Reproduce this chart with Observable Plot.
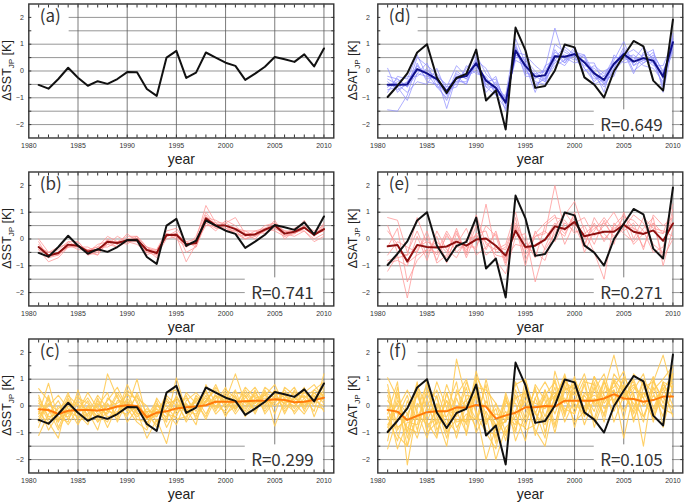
<!DOCTYPE html>
<html><head><meta charset="utf-8">
<script src="https://cdn.jsdelivr.net/npm/d3@7"></script>
<script src="https://cdn.jsdelivr.net/npm/@observablehq/plot@0.6"></script>
<style>
body{margin:0;background:#fff}
#wrap{position:relative;width:685px;height:502px;background:#fff;overflow:hidden}
#wrap svg{position:absolute}
</style>
</head><body><div id="wrap"></div>
<script>
const years = [1981,1982,1983,1984,1985,1986,1987,1988,1989,1990,1991,1992,1993,1994,1995,1996,1997,1998,1999,2000,2001,2002,2003,2004,2005,2006,2007,2008,2009,2010];
const xTickLabels = [1980,1985,1990,1995,2000,2005,2010];
const yTickLabels = [-2,-1,0,1,2];
const gridXValues = [1985,1990,1995,2000,2005,2010];
const gridYValues = [-2,-1.5,-1,-0.5,0,0.5,1,1.5,2];
const minorXTicks = [1981,1982,1983,1984,1985,1986,1987,1988,1989,1990,1991,1992,1993,1994,1995,1996,1997,1998,1999,2000,2001,2002,2003,2004,2005,2006,2007,2008,2009,2010];
const minorYTicks = [-2,-1.5,-1,-0.5,0,0.5,1,1.5,2];
const panelLabels = ["(a)","(b)","(c)","(d)","(e)","(f)"];
const rLabels = [null,"R=0.741","R=0.299","R=0.649","R=0.271","R=0.105"];
const varNames = ["SST","SST","SST","SAT","SAT","SAT"];

// observed anomalies
const sstObs = [-0.52,-0.66,-0.3,0.12,-0.25,-0.55,-0.38,-0.48,-0.3,-0.04,-0.05,-0.67,-0.93,0.5,0.75,-0.26,-0.06,0.69,0.5,0.31,0.19,-0.33,-0.1,0.16,0.52,0.44,0.34,0.62,0.17,0.84];
const satObs = [-0.97,-0.55,-0.09,0.69,1.0,-0.24,-0.82,-0.26,-0.11,0.8,-1.1,-0.73,-2.18,1.62,0.78,-0.63,-0.56,0.02,0.99,0.88,-0.24,-0.51,-0.99,-0.01,0.57,1.12,0.92,-0.36,-0.73,1.92];

// ensemble means
const meanB = [-0.3,-0.62,-0.52,-0.21,-0.25,-0.47,-0.4,-0.1,-0.15,-0.05,-0.02,-0.41,-0.52,0.15,0.16,-0.2,-0.15,0.77,0.5,0.5,0.37,0.15,0.17,0.35,0.5,0.2,0.27,0.43,0.15,0.37];
const meanC = [-0.12,-0.15,-0.3,-0.18,-0.15,-0.15,-0.17,-0.12,-0.02,0.03,0.0,-0.42,-0.25,-0.2,-0.09,-0.05,-0.02,0.03,0.16,0.16,0.16,0.18,0.2,0.2,0.25,0.22,0.14,0.16,0.22,0.31];
const meanD = [-0.51,-0.51,-0.5,0.07,-0.09,-0.3,-0.76,-0.26,-0.19,0.29,-0.36,-0.63,-1.18,0.76,0.19,-0.21,-0.16,0.55,0.53,0.63,0.32,-0.09,-0.33,0.26,0.63,0.35,0.48,0.38,-0.21,1.07];
const meanE = [-0.27,-0.22,-0.84,-0.22,-0.3,-0.32,-0.28,-0.1,-0.25,-0.02,0.02,-0.25,-0.62,0.31,-0.3,-0.25,-0.02,0.47,0.37,0.64,0.1,0.19,0.27,0.27,0.53,0.27,0.19,0.32,-0.07,0.58];
const meanF = [-0.15,-0.21,-0.52,-0.37,-0.23,-0.2,-0.2,-0.05,-0.07,0.04,-0.02,-0.47,-0.35,-0.25,-0.05,-0.05,0.0,-0.02,0.2,0.2,0.2,0.2,0.28,0.44,0.28,0.26,0.16,0.22,0.35,0.35];

// ensemble members (estimated)
const membersB = [
[0.0,-0.5,-0.4,-0.1,-0.3,-0.4,-0.3,0.1,-0.1,0.1,0.1,-0.3,-0.4,0.3,0.4,-0.1,0.0,1.25,0.6,0.6,0.4,0.3,0.3,0.4,0.6,0.3,0.2,0.5,0.1,0.5],
[-0.4,-0.85,-0.7,-0.3,-0.2,-0.6,-0.5,-0.2,-0.3,-0.1,0.0,-0.5,-0.6,0.0,0.1,-0.85,-0.2,0.6,0.4,0.4,0.2,0.1,0.2,0.3,0.7,0.1,0.3,0.3,0.0,0.2],
[-0.2,-0.6,-0.5,-0.3,-0.1,-0.5,-0.6,-0.05,-0.2,0.0,-0.1,-0.3,-0.5,0.2,0.0,-0.3,-0.1,0.9,0.4,0.6,0.8,0.2,0.0,0.4,0.4,0.2,0.4,0.6,0.2,0.4],
[-0.5,-0.7,-0.6,-0.2,-0.4,-0.4,-0.3,-0.3,-0.1,-0.2,0.1,-0.6,-0.4,0.1,0.3,-0.5,-0.3,0.7,0.6,0.3,0.3,0.0,0.1,0.3,0.5,0.3,0.2,0.4,0.2,0.3],
[-0.3,-0.5,-0.3,-0.2,-0.3,-0.3,-0.5,0.0,-0.2,0.2,-0.1,-0.4,-0.7,0.2,0.1,-0.2,-0.2,0.8,0.7,0.5,0.4,0.2,0.2,0.5,0.6,0.0,0.3,0.7,0.1,0.6],
[-0.1,-0.7,-0.5,-0.3,-0.2,-0.6,-0.4,-0.2,0.1,-0.1,-0.2,-0.5,-0.5,0.1,0.2,-0.1,-0.3,0.6,0.3,0.7,0.5,0.1,0.3,0.2,0.4,0.2,0.1,0.3,-0.1,0.1],
[-0.4,-0.6,-0.6,-0.1,-0.1,-0.5,-0.2,-0.1,-0.3,0.0,0.1,-0.3,-0.6,0.2,0.1,-0.3,0.1,1.0,0.5,0.4,0.3,0.3,0.1,0.3,0.5,0.3,0.3,0.5,0.3,0.5],
[-0.3,-0.5,-0.6,-0.3,-0.3,-0.4,-0.6,-0.1,-0.1,-0.1,-0.1,-0.4,-0.4,0.1,0.2,-0.2,-0.1,0.5,0.5,0.5,0.2,0.0,0.2,0.4,0.3,0.1,0.2,0.4,0.2,0.3]
];
const membersC = [
[0.65,0.2,-0.6,0.1,-0.3,0.2,-0.5,1.2,0.3,-0.2,0.4,-0.7,0.1,-0.5,0.4,-0.3,0.2,0.5,-0.1,0.6,0.3,-0.2,0.5,0.0,0.6,0.3,-0.1,0.6,0.2,0.8],
[-1.1,-0.3,0.2,-0.5,0.1,-0.6,0.2,-0.4,-0.3,0.5,-0.3,-0.2,-0.8,0.3,-0.2,0.4,-0.5,0.2,0.6,-0.1,0.5,0.4,-0.2,0.6,-0.3,0.7,0.4,-0.1,0.5,0.1],
[-0.3,0.85,-0.5,-0.2,0.4,-0.4,0.1,-0.2,0.5,-0.1,1.0,-0.5,-0.1,-0.6,1.05,-0.2,0.3,-0.3,0.4,0.2,1.2,0.1,0.4,-0.2,0.3,0.1,0.5,0.3,-0.2,1.2],
[0.2,-0.6,-1.2,0.3,-0.5,0.0,-0.6,0.1,-0.4,0.3,-0.2,-1.2,-0.5,-1.4,0.1,-0.5,0.4,0.0,0.2,-0.3,0.0,0.6,0.1,0.5,-0.75,0.2,0.0,0.5,0.8,0.3],
[-0.5,0.1,-0.2,-0.7,-0.1,0.3,-0.3,-0.6,0.2,0.1,-0.4,-0.1,-0.4,0.2,-0.3,0.1,-0.4,0.6,-0.2,0.5,-0.1,0.3,0.7,0.1,0.5,-0.2,0.3,0.0,0.4,-0.2],
[0.3,-0.4,-0.3,0.5,-0.6,-0.3,0.4,-0.1,-0.5,0.6,0.2,-0.8,0.3,-0.3,-0.4,0.5,0.1,-0.4,0.5,0.3,-0.3,0.2,-0.1,0.7,0.4,0.5,-0.3,0.2,0.1,0.6],
[-0.2,-0.7,0.0,-0.3,0.2,-0.2,-0.9,0.3,0.0,-0.4,0.5,-0.3,-0.7,0.1,0.2,-0.6,0.0,0.3,0.0,-0.2,0.4,-0.3,0.3,0.4,0.8,0.0,0.6,-0.2,0.6,0.4],
[-0.6,0.4,-0.8,0.0,-0.2,0.5,-0.1,-0.3,0.4,-0.6,-0.1,-0.5,0.0,-0.2,-0.7,0.2,0.5,0.1,0.8,0.0,0.2,-0.1,0.6,-0.3,0.2,0.4,0.2,0.7,-0.4,0.5],
[0.1,-0.2,-0.4,-0.6,0.6,-0.5,0.0,0.5,-0.6,0.2,-0.5,-0.6,-0.3,0.4,0.0,-0.1,-0.7,0.8,0.1,0.7,-0.2,0.5,0.0,0.2,0.1,0.6,0.1,0.4,0.0,-0.1],
[-0.4,0.0,0.4,-0.1,-0.7,0.0,-0.4,0.0,0.1,0.4,0.3,0.0,-0.6,-0.1,0.3,-0.3,0.2,-0.5,0.3,0.4,0.0,0.7,0.3,-0.1,0.4,-0.1,0.3,0.1,0.3,0.7],
[0.4,-0.5,-0.1,0.2,-0.3,-0.7,0.3,-0.5,-0.2,-0.3,0.0,-0.4,0.2,-0.8,-0.1,0.3,-0.2,0.4,-0.3,0.1,0.6,-0.4,0.2,0.3,0.0,0.3,0.7,0.0,0.5,0.2],
[-0.8,0.3,-0.6,0.4,0.0,-0.1,-0.2,0.2,0.7,-0.1,-0.6,-0.9,0.0,0.0,-0.5,-0.4,0.3,0.0,0.4,-0.4,0.3,0.0,0.5,0.0,0.6,-0.3,0.4,0.5,0.2,0.0],
[0.0,-0.9,-0.3,-0.4,0.3,0.1,-0.6,-0.2,-0.3,0.8,0.1,-0.4,-0.4,0.5,0.6,-0.2,-0.3,0.2,0.7,0.1,-0.1,0.4,-0.3,0.5,0.3,0.1,-0.2,0.3,0.6,0.9],
[-0.3,-0.1,-0.9,-0.2,-0.4,-0.3,0.0,-0.8,0.0,0.2,-0.3,-0.2,-0.2,-0.4,0.3,0.0,0.0,0.2,0.0,0.3,0.1,0.2,0.1,0.4,0.2,0.4,0.1,-0.3,0.3,0.4]
];
const membersD = [
[-1.45,-1.5,-0.9,0.3,-0.4,-0.5,-1.1,-0.2,-0.5,0.4,-0.6,-0.9,-1.4,0.9,0.1,-0.5,-0.3,0.8,0.3,0.7,0.5,-0.2,-0.6,0.1,0.9,0.2,0.6,0.3,-0.5,1.2],
[-0.2,-0.3,-0.6,0.5,0.2,-0.1,-0.6,-0.5,0.1,0.6,-0.1,-0.5,-1.0,0.6,0.4,0.0,-0.4,0.4,0.8,0.5,0.2,0.1,-0.2,0.5,0.5,0.6,0.3,0.6,0.0,0.9],
[-0.6,-0.4,-0.2,-0.2,0.1,-0.4,-0.9,0.0,-0.3,0.2,-0.5,-0.2,-1.3,1.0,0.0,-0.3,0.1,1.6,0.4,0.9,0.1,-0.3,-0.2,0.3,0.7,-0.1,0.7,0.5,-0.3,1.0],
[0.1,-0.8,-0.4,0.2,-0.3,-0.2,-0.5,-0.4,-0.1,0.3,-0.3,-0.8,-1.1,0.5,0.5,-0.6,-0.2,0.3,0.6,0.4,0.6,-0.1,-0.5,0.0,0.4,0.5,0.2,0.1,-0.4,1.3],
[-0.5,-0.6,-1.1,-0.1,0.3,-0.6,-1.0,-0.1,-0.3,0.5,-0.8,-0.4,-1.5,0.8,-0.1,-0.1,0.0,0.6,0.3,0.8,0.3,0.3,-0.5,0.4,1.1,0.2,0.4,0.7,-0.1,0.8],
[-0.8,-0.2,-0.3,0.6,-0.2,-0.3,-0.7,-0.6,0.2,-0.1,-0.2,-0.9,-0.9,1.2,0.3,-0.4,-0.5,0.5,0.9,0.6,0.1,-0.4,0.0,0.2,0.6,0.8,0.5,0.2,0.2,1.1],
[-0.3,-0.5,-0.8,-0.4,-0.5,0.1,-0.8,-0.3,-0.5,0.4,0.1,-0.6,-1.2,0.7,0.6,0.2,-0.1,0.7,0.5,0.3,0.4,0.0,-0.8,0.6,0.3,0.4,0.9,0.4,-0.6,1.4],
[-0.7,-0.6,-0.4,0.0,0.0,-0.2,-1.4,-0.2,-0.1,0.1,-0.5,-0.7,-1.0,0.4,0.2,-0.8,0.2,0.4,0.2,0.7,0.6,-0.5,-0.3,-0.2,0.8,0.0,0.3,0.5,-0.2,0.7],
[-0.4,-0.7,-0.5,0.2,-0.1,-0.6,-0.6,0.2,-0.2,0.0,-0.4,-0.3,-1.2,0.9,-0.2,-0.2,-0.4,1.0,0.7,0.5,0.0,0.2,-0.1,0.3,0.5,0.3,0.6,0.8,-0.8,1.0],
[-0.6,-0.3,-0.6,-0.1,-0.2,-0.3,-0.9,-0.4,-0.4,0.3,-0.6,-0.6,-1.1,0.6,0.3,-0.1,-0.3,0.2,0.4,0.6,0.3,-0.2,-0.4,0.1,0.7,0.5,0.4,0.3,-0.1,1.2]
];
const membersE = [
[0.8,0.7,-0.5,0.3,-0.6,0.1,-0.9,0.2,-0.5,0.5,-0.4,0.3,-0.9,0.8,-0.8,0.1,0.2,2.0,0.3,0.9,-0.2,0.6,-0.1,0.5,0.9,0.4,-0.3,0.6,0.2,1.3],
[-1.2,-0.6,-2.2,-0.4,0.1,-0.8,0.2,-0.5,-0.1,-0.4,1.3,-0.5,-0.3,0.6,-0.1,-0.7,0.5,0.8,0.7,0.2,0.5,-0.2,0.7,0.0,0.4,0.9,0.6,-0.2,-0.5,0.9],
[-0.3,0.4,-1.6,-0.8,-0.4,-0.1,-0.5,0.3,-0.7,0.2,0.3,-0.8,-1.3,0.1,0.2,-1.6,-0.3,0.5,0.9,1.4,0.3,-0.5,-1.5,0.6,0.2,-0.1,0.4,0.8,-1.0,0.4],
[0.5,-0.5,-0.6,0.8,-0.2,-0.6,0.1,-0.2,0.4,-0.6,-0.3,0.2,-0.8,0.5,-1.0,0.3,-0.4,0.2,1.0,0.5,-0.3,0.8,0.2,-0.2,1.0,0.0,0.8,0.4,0.3,0.1],
[-0.6,-0.1,-0.3,-0.5,0.3,-0.9,-0.6,0.4,-0.6,0.9,-0.2,-0.4,-0.2,1.0,-0.4,0.2,0.6,0.9,-0.2,0.6,0.8,0.1,0.5,1.0,0.3,0.6,-0.4,0.9,0.5,0.8],
[-0.9,-0.8,-1.0,0.1,-0.8,0.3,-0.4,-0.7,0.0,0.1,-0.1,-0.6,-0.7,-0.2,-0.3,-0.5,-0.8,0.4,0.1,1.0,-0.5,0.3,0.8,0.3,0.8,0.7,0.3,-0.5,-0.3,1.1],
[0.3,-0.2,-0.9,-0.6,-0.4,-0.5,0.3,-0.3,-0.3,-0.3,0.5,0.1,-1.0,0.4,-0.6,0.1,0.3,-0.1,0.6,0.3,0.2,0.5,0.0,0.4,0.6,-0.2,0.2,0.6,-0.7,0.0],
[-0.8,-0.7,-0.6,-0.3,-0.1,-0.3,-0.7,0.0,-0.4,0.2,-0.6,-0.3,-0.4,0.5,-0.4,-0.2,0.0,0.6,0.2,0.8,0.0,0.4,0.6,0.1,0.5,0.4,0.2,0.3,0.2,0.6]
];
const membersF = [
[1.05,0.3,-1.0,0.5,-0.6,0.4,-1.0,1.75,0.2,-0.5,0.8,-1.2,0.3,-0.9,0.6,-0.6,0.4,0.9,-0.4,1.0,0.2,-0.5,0.9,0.1,1.1,0.4,-0.6,1.0,0.1,1.2],
[-1.6,-0.4,0.4,-0.9,0.3,-1.1,0.5,-0.6,-0.5,1.0,-0.6,-0.1,-1.3,0.6,-0.5,0.7,-1.0,0.4,1.0,-0.3,0.9,0.8,-0.4,1.0,-0.5,1.2,0.8,-0.4,0.9,0.0],
[-0.3,0.9,-2.2,-0.1,0.8,-0.7,0.2,-0.3,0.9,-0.2,-2.0,-0.8,-0.2,-1.0,1.0,-0.3,0.6,-0.7,0.7,0.4,1.2,0.0,0.6,1.9,0.4,-0.2,0.9,0.5,-0.4,1.4],
[0.4,-1.1,-1.5,0.6,-0.9,0.0,-1.2,0.3,-0.7,0.6,-0.3,-2.0,-0.8,-0.4,0.2,-0.9,-1.5,0.2,0.3,-0.6,-0.2,1.1,0.1,0.6,-1.2,0.5,-1.5,0.9,1.9,0.5],
[-0.8,0.2,-0.3,-1.2,0.0,0.6,-0.5,-1.0,0.4,0.3,-0.7,0.1,-0.6,0.4,-0.7,0.3,-0.6,1.0,-0.3,0.8,-0.4,0.6,1.2,0.0,0.8,-0.5,0.5,-0.2,0.7,-0.4],
[0.6,-0.8,-0.5,0.9,-1.0,-0.6,0.8,-0.2,-1.0,1.1,0.4,-1.4,0.5,-0.6,-0.8,0.8,0.2,-0.8,0.9,0.6,-0.7,0.3,-0.3,1.2,0.7,0.9,-0.4,0.4,-0.1,1.1],
[-0.4,-1.3,0.2,-0.5,0.5,-0.4,-1.5,0.6,-0.1,-0.8,1.0,-0.5,-1.1,0.3,0.5,-1.1,0.1,0.5,-0.1,-0.3,0.8,-0.6,0.5,0.7,1.3,-0.1,1.0,-0.6,0.9,0.7],
[-1.0,0.7,-1.2,0.1,-0.4,0.9,-0.1,-0.4,0.7,-1.0,-0.2,-0.9,0.2,-0.3,-1.3,0.3,0.9,0.2,1.2,-0.1,0.4,-0.2,1.0,-0.6,0.4,0.8,0.3,1.1,-0.8,0.8],
[0.2,-0.3,-0.8,-1.0,1.0,-0.9,-0.1,0.9,-1.1,0.5,-0.9,-1.1,-0.5,0.9,-0.1,-0.2,-1.2,1.3,0.1,1.1,-0.4,0.9,-0.1,0.4,0.2,1.0,0.0,0.7,-0.1,-0.3],
[-0.7,-0.1,0.6,-0.2,-1.2,0.1,-0.7,-0.1,0.2,0.7,0.6,0.1,-1.0,-0.2,0.6,-0.6,0.4,-1.0,0.6,0.8,-0.1,1.1,0.4,-0.2,0.7,-0.3,0.5,0.2,0.6,1.2],
[0.8,-0.9,-0.3,0.4,-0.6,-1.2,0.5,-0.8,-0.3,-0.5,0.2,-0.8,0.4,-1.3,-0.3,0.6,-0.4,0.7,-0.6,0.2,1.0,-0.8,0.3,0.6,-0.2,0.6,1.2,-0.1,0.8,0.3],
[-1.3,0.5,-1.0,0.8,-0.1,-0.3,-0.4,0.4,1.0,-0.3,-1.0,-1.6,0.1,0.1,-0.9,-0.7,0.6,-0.3,0.8,-0.8,0.5,0.1,0.9,0.2,1.0,-0.6,0.7,0.9,0.3,-0.1],
[0.0,-1.6,-0.6,-0.7,0.6,0.3,-1.0,-0.5,-0.6,1.3,0.0,-0.7,-0.6,0.8,1.0,-0.3,-0.7,0.3,1.1,0.1,-0.3,0.7,-0.6,1.0,0.5,0.1,-0.4,0.6,1.0,1.5],
[-0.5,0.1,-1.5,-0.3,-0.7,-0.5,0.2,-1.2,0.1,0.4,-0.5,-0.3,-0.4,-0.7,0.4,0.1,-0.1,0.4,-0.2,0.6,0.2,0.4,0.2,0.9,0.3,0.7,0.3,-0.5,0.5,0.9]
];

const memberColors = {blue: "#8e8eff", red: "#ff9696", yellow: "#ffcb55"};
const memberOpacity = {blue: 0.8, red: 0.85, yellow: 0.9};
const memberWidth = {blue: 0.9, red: 0.9, yellow: 1.1};
const meanColors = {blue: "#10108a", red: "#8e1010", yellow: "#ff7a0a"};

function rows(arr, id) { return arr.map((v, i) => ({year: years[i], value: v, id})); }

const panels = [
  {obs: sstObs, mean: null, members: null, theme: null, col: 0, row: 0},
  {obs: sstObs, mean: meanB, members: membersB, theme: "red", col: 0, row: 1},
  {obs: sstObs, mean: meanC, members: membersC, theme: "yellow", col: 0, row: 2},
  {obs: satObs, mean: meanD, members: membersD, theme: "blue", col: 1, row: 0},
  {obs: satObs, mean: meanE, members: membersE, theme: "red", col: 1, row: 1},
  {obs: satObs, mean: meanF, members: membersF, theme: "yellow", col: 1, row: 2}
];

const wrap = document.getElementById("wrap");
const labelFont = "'Noto Sans CJK JP','Noto Sans',sans-serif";
const axisFont = "'Liberation Sans',Arial,sans-serif";

panels.forEach((p, k) => {
  const ml = p.col === 0 ? 28.3 : 37.3;
  const mr = 7;
  const W = 305;
  const label = panelLabels[k];
  const r = rLabels[k];
  const memberRows = p.members ? p.members.flatMap((m, j) => rows(m, j)) : [];
  const chart = Plot.plot({
    width: ml + W + mr,
    height: 168,
    marginLeft: ml, marginRight: mr, marginTop: 3.5, marginBottom: 30.5,
    x: {domain: [1980, 2011]},
    y: {domain: [-2.5, 2.5]},
    style: {fontFamily: axisFont, fontSize: "7px", color: "#333", background: "transparent", overflow: "visible"},
    marks: [
      Plot.gridY(gridYValues, {stroke: "#969696", strokeOpacity: 1, strokeWidth: 1}),
      Plot.gridX(gridXValues, {stroke: "#5a5a5a", strokeOpacity: 1, strokeWidth: 0.8}),
      Plot.rect([label], {x1: 1980, x2: 1984.1, y1: 1.3, y2: 2.5, fill: "white"}),
      r ? Plot.rect([r], {x1: 2002, x2: 2009.95, y1: -2.5, y2: -1.45, fill: "white"}) : null,
      p.members ? Plot.line(memberRows, {x: "year", y: "value", z: "id", stroke: memberColors[p.theme], strokeWidth: memberWidth[p.theme], strokeOpacity: memberOpacity[p.theme]}) : null,
      p.mean ? Plot.line(rows(p.mean, "mean"), {x: "year", y: "value", stroke: meanColors[p.theme], strokeWidth: 2}) : null,
      Plot.line(rows(p.obs, "obs"), {x: "year", y: "value", stroke: "#111", strokeWidth: 2}),
      Plot.text([label], {text: d => d, frameAnchor: "top-left", dx: 11, dy: 6, textAnchor: "start", lineAnchor: "top", fontSize: 17, fontFamily: labelFont, fill: "#333"}),
      r ? Plot.text([r], {text: d => d, frameAnchor: "bottom-right", dx: -20, dy: -7, textAnchor: "end", lineAnchor: "bottom", fontSize: 17, fontFamily: labelFont, fill: "#333"}) : null,
      Plot.text(["year"], {text: d => d, frameAnchor: "bottom", dy: 21.5, lineAnchor: "middle", fontSize: 14, fontFamily: "'Liberation Sans Narrow','Arial Narrow','Liberation Sans',sans-serif", fill: "#222"}),
      Plot.frame({stroke: "#333", strokeWidth: 1.4}),
      Plot.axisX(minorXTicks, {anchor: "bottom", tickSize: -3, tickFormat: () => "", label: null, stroke: "#333"}),
      Plot.axisX(minorXTicks, {anchor: "top", tickSize: -3, tickFormat: () => "", label: null, stroke: "#333"}),
      Plot.axisY(minorYTicks, {anchor: "left", tickSize: -3, tickFormat: () => "", label: null, stroke: "#333"}),
      Plot.axisY(minorYTicks, {anchor: "right", tickSize: -3, tickFormat: () => "", label: null, stroke: "#333"}),
      Plot.axisX(xTickLabels, {anchor: "bottom", tickSize: 0, tickPadding: 5, tickFormat: d => String(d), label: null, fill: "#333"}),
      Plot.axisY(yTickLabels, {anchor: "left", tickSize: 0, tickPadding: p.col === 0 ? 5 : 8, label: null, fill: "#333"})
    ]
  });
  chart.style.left = (p.col === 0 ? 0 : 340) + "px";
  chart.style.top = (p.row * 167.5) + "px";
  // y-axis title with subscript
  const t = d3.select(chart).append("text")
    .attr("transform", `translate(${p.col === 0 ? 11 : 17},${3.5 + 67}) rotate(-90)`)
    .attr("text-anchor", "middle")
    .attr("font-family", axisFont)
    .attr("font-size", 12.5)
    .attr("fill", "#222");
  t.append("tspan").text("Δ" + varNames[k]);
  t.append("tspan").attr("font-size", 8).attr("dy", 2.5).text("JP");
  t.append("tspan").attr("dy", -2.5).text(" [K]");
  wrap.appendChild(chart);
});
</script>
</body></html>
